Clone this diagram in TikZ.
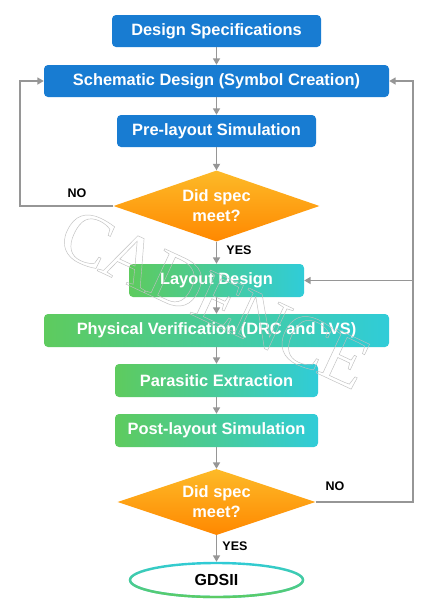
\documentclass[tikz,border=0pt]{standalone}
\usepackage{fontspec}
\setmainfont{Liberation Sans}
\newfontfamily\wmfont[LetterSpace=-4]{Liberation Serif}
\usetikzlibrary{shapes.geometric,arrows.meta,fadings}
\definecolor{boxblue}{RGB}{24,124,210}
\definecolor{ggreen}{RGB}{94,203,94}
\definecolor{gcyan}{RGB}{48,204,216}
\definecolor{otop}{RGB}{253,186,40}
\definecolor{obot}{RGB}{255,136,0}
\definecolor{conngray}{RGB}{150,150,150}
\tikzset{
  boxtext/.style={text=white, font=\fontsize{16.4}{20}\bfseries\selectfont, inner sep=0pt},
  bluebox/.style={boxtext, rectangle, rounded corners=4pt, fill=boxblue, minimum height=32pt},
  greenbox/.style={boxtext, rectangle, rounded corners=4pt, left color=ggreen, right color=gcyan, minimum height=33pt},
  decision/.style={boxtext, diamond, top color=otop, bottom color=obot, align=center, aspect=2.9},
  conn/.style={draw=conngray, line width=1.7pt, -{Triangle[length=6.5pt,width=7pt]}},
  lbl/.style={font=\fontsize{12.5}{14}\bfseries\selectfont, text=black, inner sep=0pt},
}
\begin{document}
\begin{tikzpicture}[x=1pt,y=-1pt]
\useasboundingbox (0,0) rectangle (434,614);
\fill[white] (0,0) rectangle (434,614);

\node[bluebox, minimum width=209pt] (ds) at (216.5,31) {Design Specifications};
\node[bluebox, minimum width=345pt] (sd) at (216.5,81) {Schematic Design (Symbol Creation)};
\node[bluebox, minimum width=199pt] (pre) at (216.5,131) {Pre-layout Simulation};
\node[decision, minimum width=206pt, minimum height=71pt] (d1) at (216.5,206) {Did spec\\meet?};
\node[greenbox, minimum width=175pt] (ld) at (216.5,280.5) {Layout Design};
\node[greenbox, minimum width=345pt] (pv) at (216.5,330.5) {Physical Verification (DRC and LVS)};
\node[greenbox, minimum width=203pt] (pe) at (216.5,380.5) {Parasitic Extraction};
\node[greenbox, minimum width=203pt] (post) at (216.5,430.5) {Post-layout Simulation};
\node[decision, minimum width=198pt, minimum height=66pt] (d2) at (216.5,502) {Did spec\\meet?};
\node[ellipse, draw=gcyan, fill=white, line width=2.4pt, minimum width=173pt, minimum height=34pt, inner sep=0pt, font=\fontsize{16}{20}\bfseries\selectfont] (gd) at (216.5,580) {GDSII};
\draw[ggreen, line width=2.4pt, path fading=north] (gd.center) ellipse [x radius=86.5pt, y radius=17pt];

\coordinate (lft) at (20,206);
\coordinate (rgt) at (413,502);
\coordinate (br) at (413,280.5);

\draw[conn] (ds) -- (sd);
\draw[conn] (sd) -- (pre);
\draw[conn] (pre) -- (d1);
\draw[conn] (d1) -- (ld);
\draw[conn] (ld) -- (pv);
\draw[conn] (pv) -- (pe);
\draw[conn] (pe) -- (post);
\draw[conn] (post) -- (d2);
\draw[conn] (d2) -- (gd);
\draw[conn] (d1.west) -- (lft) |- (sd.west);
\draw[conn] (d2.east) -- (rgt) |- (sd.east);
\draw[conn] (br) -- (ld.east);

\node[lbl] (no1) at (77,193) {NO};
\node[lbl] (yes1) at (239,250) {YES};
\node[lbl] (no2) at (335,486) {NO};
\node[lbl] (yes2) at (235,546) {YES};

\node[rotate=-25, text=black!25, inner sep=0pt, font=\wmfont\fontsize{74}{74}\selectfont] (wm) at (215,299) {\special{pdf:literal direct 1 Tr 0.45 w}CADENCE\special{pdf:literal direct 0 Tr}};
\end{tikzpicture}
\end{document}
